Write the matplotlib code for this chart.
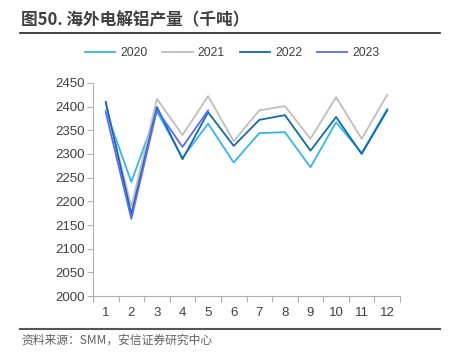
import matplotlib.pyplot as plt
from matplotlib.lines import Line2D

plt.rcParams['font.family'] = ['Liberation Sans', 'Noto Sans CJK SC', 'DejaVu Sans']

months = list(range(1, 13))
y2020 = [2392, 2241, 2390, 2292, 2364, 2282, 2344, 2346, 2272, 2367, 2302, 2395]
y2021 = [2405, 2189, 2416, 2340, 2422, 2327, 2392, 2401, 2332, 2420, 2332, 2425]
y2022 = [2410, 2173, 2399, 2289, 2388, 2317, 2372, 2382, 2307, 2378, 2300, 2392]
y2023 = [2388, 2163, 2393, 2315, 2392]

series = [
    ("2020", y2020, "#33b6e8"),
    ("2021", y2021, "#c3bcbc"),
    ("2022", y2022, "#1468ad"),
    ("2023", y2023, "#5a6cf2"),
]

fig = plt.figure(figsize=(4.49, 3.62), dpi=100)
ax = fig.add_axes([0.207, 0.182, 0.684, 0.589])

for name, vals, col in series:
    ax.plot(months[:len(vals)], vals, color=col, lw=1.3, label=name)

ax.set_xlim(0.5, 12.5)
ax.set_ylim(2000, 2450)
ax.set_yticks(range(2000, 2451, 50))
ax.set_xticks([i + 0.5 for i in range(0, 13)])
ax.set_xticklabels([])
ax.set_xticks(months, minor=True)
ax.set_xticklabels([str(m) for m in months], minor=True)
ax.tick_params(axis='x', which='major', length=4, color='#b0b0b0', direction='out')
ax.tick_params(axis='x', which='minor', length=0, pad=8, labelsize=9.5, labelcolor='#404040')
ax.tick_params(axis='y', length=4, color='#b0b0b0', labelsize=9.5, labelcolor='#404040', pad=2)
for s in ['top', 'right']:
    ax.spines[s].set_visible(False)
for s in ['left', 'bottom']:
    ax.spines[s].set_color('#b0b0b0')
    ax.spines[s].set_linewidth(0.8)

# legend across the top
handles = [Line2D([], [], color=c, lw=1.3) for _, _, c in series]
fig.legend(handles, [n for n, _, _ in series], loc='center', bbox_to_anchor=(0.517, 0.853),
           ncol=4, frameon=False, fontsize=8.8, handlelength=2.5, handletextpad=0.4,
           columnspacing=1.2, labelcolor='#404040')

fig.text(0.047, 0.945, "图50. 海外电解铝产量（千吨）", fontsize=12, fontweight='bold',
         color='#404040', va='center', family=['Noto Sans CJK SC', 'DejaVu Sans'])
fig.add_artist(Line2D([0.045, 0.98], [0.91, 0.91], color='#222222', lw=1.2))
fig.add_artist(Line2D([0.045, 0.98], [0.091, 0.091], color='#555555', lw=1.5))
fig.text(0.047, 0.06, "资料来源：SMM，安信证券研究中心", fontsize=8.5, style='italic',
         color='#606060', va='center', family=['Noto Sans CJK SC', 'DejaVu Sans'])

fig.savefig("out.png", dpi=100)
